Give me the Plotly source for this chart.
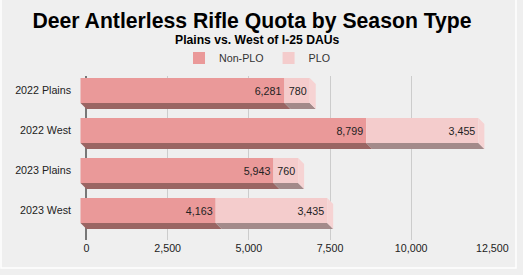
import plotly.graph_objects as go

# ---- data ----
categories = ["2022 Plains", "2022 West", "2023 Plains", "2023 West"]
non_plo = [6281, 8799, 5943, 4163]
plo = [780, 3455, 760, 3435]
series_names = ["Non-PLO", "PLO"]
x_ticks = [0, 2500, 5000, 7500, 10000, 12500]

# ---- style ----
FONT = "Liberation Sans, Arial, sans-serif"
FS = 10.7
front_cols = ["#EA9999", "#F4CCCC"]
bottom_cols = ["#9A6563", "#A38A8A"]
side_cols = ["#B07775", "#F6D3D3"]
BG = "#EFEFEF"

W, H = 523, 275
ML, MR, MT, MB = 80, 30, 76, 35
XR = [-200, 12520]
YR = [3.5875, -0.5125]
px_per_x = (W - ML - MR) / (XR[1] - XR[0])
px_per_y = (H - MT - MB) / (YR[0] - YR[1])
DEPTH_PX = 6
dx = DEPTH_PX / px_per_x   # depth in x data units
dy = DEPTH_PX / px_per_y   # depth in y data units
bw = 25 / px_per_y          # bar thickness in y units

fig = go.Figure()

series = [non_plo, plo]
n = len(categories)
# depth faces (bottom and right side), drawn from data
for i in range(n):
    start = 0
    for k, vals in enumerate(series):
        s, e = start, start + vals[i]
        y_fb = i - dy + bw / 2   # front bottom
        y_ft = i - dy - bw / 2   # front top
        y_bb = i + bw / 2        # back bottom
        y_bt = i - bw / 2        # back top
        fig.add_trace(go.Scatter(
            x=[s - dx, e - dx, e, s, s - dx],
            y=[y_fb, y_fb, y_bb, y_bb, y_fb],
            fill="toself", fillcolor=bottom_cols[k], mode="lines",
            line=dict(width=0, color=bottom_cols[k]),
            hoverinfo="skip", showlegend=False))
        if k == len(series) - 1:
            fig.add_trace(go.Scatter(
                x=[e - dx, e, e, e - dx, e - dx],
                y=[y_ft, y_bt, y_bb, y_fb, y_ft],
                fill="toself", fillcolor=side_cols[k], mode="lines",
                line=dict(width=0, color=side_cols[k]),
                hoverinfo="skip", showlegend=False))
        start = e

# front faces
bases = [[-dx] * n, [v - dx for v in non_plo]]
for k, vals in enumerate(series):
    fig.add_trace(go.Bar(
        name=series_names[k], orientation="h",
        x=vals, y=[i - dy for i in range(n)], base=bases[k],
        width=bw, marker=dict(color=front_cols[k], line=dict(width=0)),
        texttemplate="%{x:,}", textposition="inside", insidetextanchor="end",
        textangle=0, constraintext="none",
        textfont=dict(family=FONT, size=FS, color="#222222"),
        hoverinfo="x+name"))

fig.update_layout(
    width=W, height=H,
    margin=dict(l=ML, r=MR, t=MT, b=MB, pad=0, autoexpand=False),
    paper_bgcolor=BG, plot_bgcolor=BG,
    barmode="overlay",
    font=dict(family=FONT, color="#222222", size=FS),
    title=dict(text="<b>Deer Antlerless Rifle Quota by Season Type</b>",
               x=252 / W, xanchor="center", y=1 - 20.3 / H, yanchor="middle",
               yref="container", xref="container",
               font=dict(family=FONT, size=21.2, color="#000000")),
    legend=dict(orientation="h", x=(257 - ML) / (W - ML - MR), xanchor="center",
                y=(H - MB - 58) / (H - MT - MB), yanchor="middle",
                font=dict(family=FONT, size=FS, color="#333333"),
                bgcolor="rgba(0,0,0,0)", traceorder="normal"),
    xaxis=dict(range=XR, tickvals=x_ticks, tickformat=",",
               showgrid=True, gridcolor="#CCCCCC", gridwidth=1,
               zeroline=True, zerolinecolor="#777777", zerolinewidth=2,
               showline=False, ticks="", fixedrange=True, automargin=False,
               tickfont=dict(family=FONT, size=FS, color="#222222")),
    yaxis=dict(range=YR, tickvals=[i - dy for i in range(n)], ticktext=categories,
               showgrid=False, zeroline=False, showline=False, ticks="",
               ticklabelstandoff=8, automargin=False, fixedrange=True,
               tickfont=dict(family=FONT, size=FS, color="#222222")),
    annotations=[dict(text="<b>Plains vs. West of I-25 DAUs</b>",
                      xref="paper", yref="paper",
                      x=(257 - ML) / (W - ML - MR), y=(H - MB - 40.5) / (H - MT - MB),
                      xanchor="center", yanchor="middle", showarrow=False,
                      font=dict(family=FONT, size=12.2, color="#000000"))],
    shapes=[dict(type="rect", xref="paper", yref="paper",
                 x0=(1 - ML) / (W - ML - MR), x1=(516 - ML) / (W - ML - MR),
                 y0=(H - MB - 268) / (H - MT - MB), y1=(H - MB + 5) / (H - MT - MB),
                 line=dict(color="#FFFFFF", width=1.5), layer="below")],
)

fig.write_html("out.html", config={"displayModeBar": False},
               post_script="document.body.style.margin='0';document.body.style.background='#EFEFEF';")
